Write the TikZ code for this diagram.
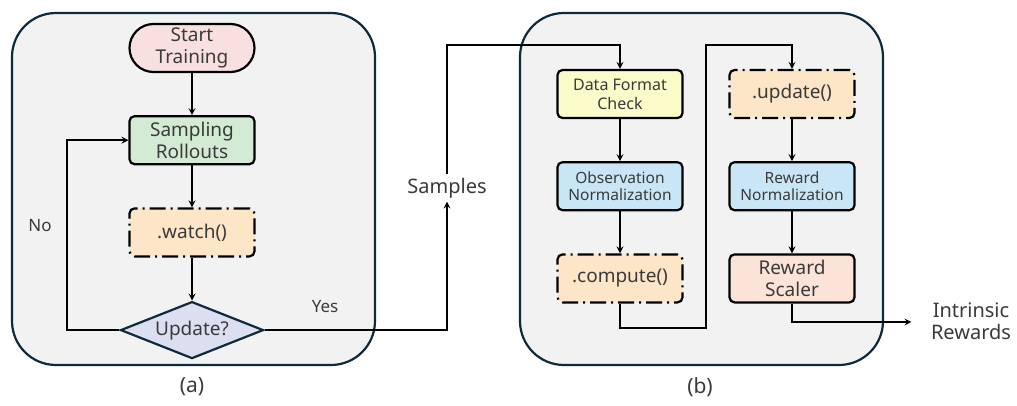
\documentclass[tikz,border=0pt]{standalone}
\usepackage{fontspec}
\setmainfont{Noto Sans}
\usepackage{xcolor}
\usepackage{tikz}
\usetikzlibrary{shapes.geometric}
\usetikzlibrary{calc}
\usetikzlibrary{positioning}
\tikzset{>=stealth}

\definecolor{panelfill}{HTML}{F2F2F2}
\definecolor{navy}{HTML}{0E2A3B}
\definecolor{txt}{HTML}{3A3A3A}
\definecolor{startfill}{HTML}{F9E0E0}
\definecolor{samplefill}{HTML}{D3EAD4}
\definecolor{hookfill}{HTML}{FDE6C7}
\definecolor{checkfill}{HTML}{FAFBC8}
\definecolor{normfill}{HTML}{C9E6F6}
\definecolor{scalefill}{HTML}{FBE3D7}
\definecolor{askfill}{HTML}{DCDFF0}

\tikzset{
    panel/.style = {draw=navy, fill=panelfill, line width=2.2pt, rounded corners=44pt},
    box/.style = {draw=black, line width=2.2pt, rounded corners=5pt, minimum width=125pt,
        minimum height=48pt, align=center, text=txt, font=\fontsize{19}{21.5}\selectfont},
    hook/.style = {box, fill=hookfill, dash pattern=on 16pt off 5pt on 2pt off 5pt},
    ask/.style = {diamond, aspect=2.5, draw=navy, fill=askfill, line width=2.2pt, minimum width=143pt,
        minimum height=57pt, inner sep=0pt, text=txt, font=\fontsize{19}{21}\selectfont},
    lbl/.style = {text=txt, align=center, font=\fontsize{19}{21}\selectfont},
    flow/.style = {->, line width=2pt},
    node distance = 42pt
}

\begin{document}
\begin{tikzpicture}[x=1pt, y=1pt]
    \useasboundingbox (0,0) rectangle (1017,405);
    % panels
    \draw[panel] (12,40) rectangle (375,392);
    \draw[panel] (520,40) rectangle (883,392);

    % (a) training loop
    \node[box, fill=startfill, rounded corners=24pt] (start) at (192,357) {Start\\Training};
    \node[box, fill=samplefill, below=of start] (sampling) {Sampling\\Rollouts};
    \node[hook, below=of sampling] (watch) {.watch()};
    \node[ask, below=43pt of watch] (update) {Update?};

    % (b) reward pipeline
    \node[box, fill=checkfill, font=\fontsize{16}{19}\selectfont] (check) at (620,311) {Data Format\\Check};
    \node[box, fill=normfill, font=\fontsize{15.5}{17.5}\selectfont, below=of check] (obsnorm) {Observation\\Normalization};
    \node[hook, below=of obsnorm] (compute) {.compute()};
    \node[hook] (upd) at (792,311) {.update()};
    \node[box, fill=normfill, font=\fontsize{15.5}{17.5}\selectfont, below=of upd] (rewnorm) {Reward\\Normalization};
    \node[box, fill=scalefill, below=of rewnorm] (scaler) {Reward\\Scaler};

    % labels
    \node[lbl, font=\fontsize{20}{22}\selectfont] (samples) at (447,217) {Samples};
    \node[lbl, font=\fontsize{20}{22}\selectfont] (intrinsic) at (971,84) {Intrinsic\\Rewards};
    \node[lbl, font=\fontsize{17}{20}\selectfont] (no) at (40,179) {No};
    \node[lbl, font=\fontsize{17}{20}\selectfont] (yes) at (325,98) {Yes};
    \node[lbl, font=\fontsize{21}{22}\selectfont] (capa) at (192,18) {(a)};
    \node[lbl, font=\fontsize{21}{22}\selectfont] (capb) at (700,18) {(b)};

    \path[flow]
    (start) edge (sampling)
    (sampling) edge (watch)
    (watch) edge (update)
    (check) edge (obsnorm)
    (obsnorm) edge (compute)
    (upd) edge (rewnorm)
    (rewnorm) edge (scaler);

    \draw[flow] (update.west) -- ++(-52,0) |- (sampling.west);
    \draw[flow] (update.east) -| (samples.south);
    \draw[flow] (samples.north) |- ([yshift=24pt]check.north) -- (check.north);
    \draw[flow] (compute.south) -- ++(0,-24) -| ([xshift=-86pt,yshift=24pt]upd.north)
        -- ([yshift=24pt]upd.north) -- (upd.north);
    \draw[flow] (scaler.south) |- ([xshift=-16pt,yshift=-1pt]intrinsic.west);
\end{tikzpicture}
\end{document}
